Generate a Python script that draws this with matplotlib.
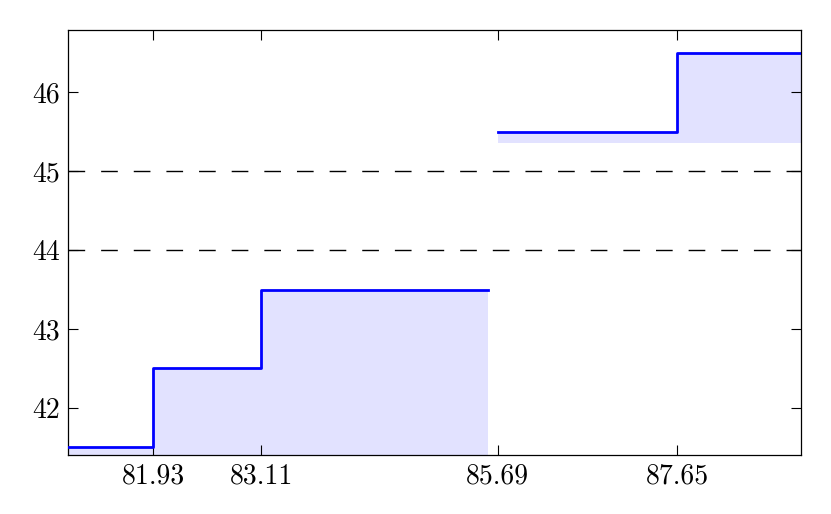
import numpy as np
import matplotlib
matplotlib.use("Agg")
from matplotlib import pyplot as plt

# step segments
left_edges = [81.0, 81.93, 83.11, 85.58]
left_levels = [41.5, 42.5, 43.5]
right_edges = [85.69, 87.65, 89.0]
right_levels = [45.5, 46.5]
right_base = 45.35

dashed_levels = [44, 45]
xtick_vals = [81.93, 83.11, 85.69, 87.65]
ytick_vals = [42, 43, 44, 45, 46]

plt.rcParams['font.family'] = 'serif'
plt.rcParams['font.serif'] = ['cmr10']
plt.rcParams['axes.formatter.use_mathtext'] = True

fig = plt.figure(figsize=(8.31, 5.14), dpi=100)
ax = fig.add_axes([68 / 831, 1 - 455 / 514, (801 - 68) / 831, (455 - 30) / 514])

ymin, ymax = 41.405, 46.785


def draw_steps(edges, levels, base):
    xs = np.array(edges)
    ys = np.array(levels + [levels[-1]])
    ax.fill_between(xs, base, ys, step='post', color='#e2e2ff', lw=0, zorder=1)
    ax.step(xs, ys, where='post', color='blue', lw=2.0, zorder=3)


draw_steps(left_edges, left_levels, ymin - 1)
draw_steps(right_edges, right_levels, right_base)

for lvl in dashed_levels:
    ax.axhline(lvl, color='black', lw=1.0, dashes=(12, 11.5), zorder=2)

ax.set_xlim(81.0, 89.0)
ax.set_ylim(ymin, ymax)
ax.set_xticks(xtick_vals)
ax.set_xticklabels(['%.2f' % v for v in xtick_vals])
ax.set_yticks(ytick_vals)
ax.set_yticklabels([str(v) for v in ytick_vals])
ax.tick_params(direction='in', top=True, right=True, length=7, width=0.8,
               labelsize=20, pad=6)
for s in ax.spines.values():
    s.set_linewidth(0.9)

fig.savefig('out.png', dpi=100)
